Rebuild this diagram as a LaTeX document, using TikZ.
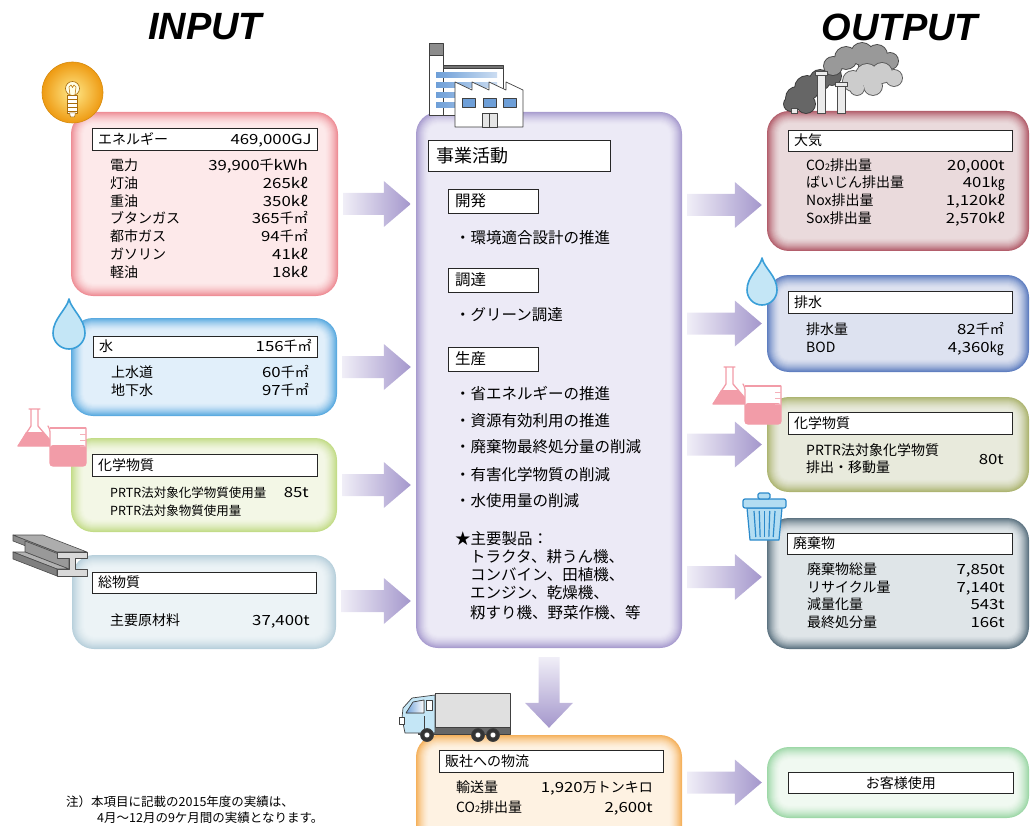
\documentclass[tikz,border=0pt]{standalone}
\usepackage{fontspec}
\setmainfont{Noto Sans CJK JP}
\newfontfamily\valfont{Noto Sans CJK JP}[FakeStretch=1.2]
\newfontfamily\titlefont{Liberation Sans}
\usetikzlibrary{calc}

% panel colours: edge / inner fill
\definecolor{eEnergy}{HTML}{EE8E96}\definecolor{fEnergy}{HTML}{FDE9EA}
\definecolor{eWater}{HTML}{5AAAE0}\definecolor{fWater}{HTML}{E1EFFA}
\definecolor{eChemIn}{HTML}{C3DC88}\definecolor{fChemIn}{HTML}{F3F7E6}
\definecolor{eMat}{HTML}{B8D0DC}\definecolor{fMat}{HTML}{ECF3F6}
\definecolor{eCenter}{HTML}{A89CCF}\definecolor{fCenter}{HTML}{ECEAF6}
\definecolor{eAir}{HTML}{B35F6C}\definecolor{fAir}{HTML}{EADADC}
\definecolor{eDrain}{HTML}{5F7EC0}\definecolor{fDrain}{HTML}{DDE2F0}
\definecolor{eChemOut}{HTML}{ADB572}\definecolor{fChemOut}{HTML}{E8EADC}
\definecolor{eWaste}{HTML}{5E7482}\definecolor{fWaste}{HTML}{DFE5E8}
\definecolor{eCust}{HTML}{9ED8A8}\definecolor{fCust}{HTML}{F0F9F1}
\definecolor{eLogi}{HTML}{F5B15C}\definecolor{fLogi}{HTML}{FEF2E2}
% flow arrows
\definecolor{arL}{HTML}{F0EEF7}\definecolor{arR}{HTML}{A497CC}
% icons
\definecolor{bulbOut}{HTML}{EE9A12}\definecolor{bulbIn}{HTML}{FFE98A}
\definecolor{dropLine}{HTML}{3A9FD8}\definecolor{dropFill}{HTML}{C4E6F6}
\definecolor{flaskPink}{HTML}{F29CA8}
\definecolor{canLine}{HTML}{2B8ACB}\definecolor{canFill}{HTML}{B3DDF2}
\definecolor{winBlue}{HTML}{6E9FD8}

\tikzset{
  txt/.style={inner sep=0, font=\fontsize{14}{16}\selectfont},
  smalltxt/.style={inner sep=0, font=\fontsize{12.5}{14}\selectfont},
  ctxt/.style={inner sep=0, font=\fontsize{15.5}{17}\selectfont},
  hdr/.style={draw=black!85, line width=0.9, fill=white, inner sep=0, anchor=north west},
  panelnode/.style={inner sep=0, draw=none},
  titletxt/.style={inner sep=0, font=\titlefont\bfseries\itshape\fontsize{38}{40}\selectfont},
  flowshade/.style={left color=arL, right color=arR},
  icon/.style={line join=round, line cap=round},
}

% wide Latin figures and unit letters
\newcommand\nv[1]{{\valfont #1}}

% soft-edged rounded panel: name, x1, y1, x2, y2, edge colour, fill colour
\newcommand\panel[7]{%
  \foreach \i in {0,...,13}{%
    \pgfmathtruncatemacro\pct{100*(1-\i/13)^1.6}%
    \pgfmathsetmacro\rad{max(22-\i,7)}%
    \fill[#6!\pct!#7, rounded corners=\rad pt] (#2+\i,#3+\i) rectangle (#4-\i,#5-\i);
  }%
  \node[panelnode, minimum width=#4-#2, minimum height=#5-#3] (#1) at ({(#2+#4)/2},{(#3+#5)/2}) {};
}

% framed heading: name, x, y, width, height, left text, right text
\newcommand\hdrbox[7]{%
  \node[hdr, minimum width=#4, minimum height=#5] (#1) at (#2,#3) {};
  \node[txt, anchor=base west] (#1-l) at ($(#1.west)+(6,5)$) {#6};
  \node[txt, anchor=base east] (#1-r) at ($(#1.east)+(-6,5)$) {#7};
}

% item row: name, y centre, label, value (columns \lx and \rx)
\newcommand\kv[4]{%
  \node[txt, anchor=base west] (#1k) at (\lx,#2+5) {#3};
  \node[txt, anchor=base east] (#1v) at (\rx,#2+5) {#4};
}

% wide horizontal flow arrow between two nodes, at the height of a reference point
\newcommand\harrow[3]{%
  \shade[flowshade] let \p1=(#1), \p2=(#2), \p3=(#3) in
    (\x1+5pt,\y3+11pt) -- (\x2-32pt,\y3+11pt) -- (\x2-32pt,\y3+23pt) -- (\x2-5pt,\y3)
    -- (\x2-32pt,\y3-23pt) -- (\x2-32pt,\y3-11pt) -- (\x1+5pt,\y3-11pt) -- cycle;
}

% water drop: centre x, tip y, bulb centre y, radius
\newcommand\drop[4]{%
  \pgfmathsetmacro\kk{0.552*#4}%
  \draw[dropLine, fill=dropFill, line width=1.6, icon]
    (#1,#2) .. controls (#1-2,#2+10) and (#1-#4,#3-14) .. (#1-#4,#3)
    .. controls (#1-#4,#3+\kk) and (#1-\kk,#3+#4) .. (#1,#3+#4)
    .. controls (#1+\kk,#3+#4) and (#1+#4,#3+\kk) .. (#1+#4,#3)
    .. controls (#1+#4,#3-14) and (#1+2,#2+10) .. (#1,#2) -- cycle;
}

% flask and beaker pair, drawn at the origin
\newcommand\flasks{%
  % erlenmeyer flask
  \fill[white] (31,410) -- (38,410) -- (38,426) -- (55,446) -- (18,446) -- (31,426) -- cycle;
  \fill[flaskPink] (26,432) -- (43,432) -- (55,446) -- (18,446) -- cycle;
  \draw[flaskPink, line width=1.3, icon] (29,409) -- (40,409)
    (31,409) -- (31,426) -- (18,446) -- (55,446) -- (38,426) -- (38,409);
  % beaker
  \fill[white, rounded corners=2pt] (50,428) rectangle (86,466);
  \fill[flaskPink, rounded corners=3pt] (50,445) rectangle (86,466);
  \draw[flaskPink, line width=1.3, rounded corners=3pt, icon] (48,426) -- (50,429) -- (50,466) -- (86,466) -- (86,428);
  \draw[flaskPink, line width=1.1] (86,428) -- (50,428);
  \draw[flaskPink!80, line width=1] (80,434) -- (86,434) (80,440) -- (86,440) (80,446) -- (86,446);
}

\newcommand\cotwo{CO{\fontsize{9}{9}\selectfont 2}}

\begin{document}
\begin{tikzpicture}[x=1pt, y=-1pt]
\useasboundingbox (0,0) rectangle (1030,826);
\clip (0,0) rectangle (1030,826);

% ---------- titles ----------
\node[titletxt] (intitle) at (205,27) {INPUT};
\node[titletxt] (outtitle) at (900,27) {OUTPUT};

% ---------- panels ----------
\panel{energy}{71}{112}{338}{296}{eEnergy}{fEnergy}
\panel{water}{71}{318}{337}{416}{eWater}{fWater}
\panel{chemin}{71}{438}{337}{532}{eChemIn}{fChemIn}
\panel{mat}{72}{555}{336}{649}{eMat}{fMat}
\panel{center}{416}{112}{682}{648}{eCenter}{fCenter}
\panel{air}{767}{111}{1029}{251}{eAir}{fAir}
\panel{drain}{767}{275}{1029}{372}{eDrain}{fDrain}
\panel{chemout}{767}{397}{1029}{492}{eChemOut}{fChemOut}
\panel{waste}{767}{518}{1029}{649}{eWaste}{fWaste}
\panel{cust}{767}{747}{1029}{818}{eCust}{fCust}
\panel{logi}{416}{735}{682}{850}{eLogi}{fLogi}

% ---------- flow arrows ----------
\harrow{energy.east}{center.west}{energy.east}
\harrow{water.east}{center.west}{water.east}
\harrow{chemin.east}{center.west}{chemin.east}
\coordinate (matrow) at (0,601);
\harrow{mat.east}{center.west}{matrow}
\coordinate (airrow) at (0,205);
\harrow{center.east}{air.west}{airrow}
\harrow{center.east}{drain.west}{drain.west}
\harrow{center.east}{chemout.west}{chemout.west}
\coordinate (wasterow) at (0,577);
\harrow{center.east}{waste.west}{wasterow}
\harrow{logi.east}{cust.west}{cust.west}
\shade[top color=arL, bottom color=arR] let \p1=(center.south), \p2=(logi.north) in
  (\x1-10.5pt,\y1-9pt) -- (\x1+10.5pt,\y1-9pt) -- (\x1+10.5pt,\y2+32pt) -- (\x1+24pt,\y2+32pt)
  -- (\x1,\y2+7pt) -- (\x1-24pt,\y2+32pt) -- (\x1-10.5pt,\y2+32pt) -- cycle;

% ---------- INPUT: energy ----------
\hdrbox{energyh}{92}{128}{225}{22}{エネルギー}{\nv{469,000GJ}}
\def\lx{110}\def\rx{308}
\kv{e1}{166}{電力}{\nv{39,900}千\nv{kWh}}
\kv{e2}{184}{灯油}{\nv{265kℓ}}
\kv{e3}{202}{重油}{\nv{350kℓ}}
\kv{e4}{219}{ブタンガス}{\nv{365}千㎡}
\kv{e5}{237}{都市ガス}{\nv{94}千㎡}
\kv{e6}{254}{ガソリン}{\nv{41kℓ}}
\kv{e7}{272}{軽油}{\nv{18kℓ}}

% ---------- INPUT: water ----------
\hdrbox{waterh}{93}{336}{224}{21}{水}{\nv{156}千㎡}
\def\lx{111}\def\rx{309}
\kv{w1}{372}{上水道}{\nv{60}千㎡}
\kv{w2}{390}{地下水}{\nv{97}千㎡}

% ---------- INPUT: chemicals ----------
\hdrbox{chemh}{92}{454}{225}{22}{化学物質}{}
\node[smalltxt, anchor=base west] (c1k) at (110,497) {PRTR法対象化学物質使用量};
\node[txt, anchor=base east] (c1v) at (309,497) {\nv{85t}};
\node[smalltxt, anchor=base west] (c2k) at (110,515) {PRTR法対象物質使用量};

% ---------- INPUT: materials ----------
\hdrbox{math}{92}{572}{224}{21}{総物質}{}
\def\lx{110}\def\rx{310}
\kv{m1}{620}{主要原材料}{\nv{37,400t}}

% ---------- business activities ----------
\node[hdr, minimum width=182, minimum height=31] (bizh) at (428,140) {};
\node[inner sep=0, font=\fontsize{18}{20}\selectfont, anchor=base west] (bizt) at ($(bizh.west)+(8,6.5)$) {事業活動};
\node[hdr, minimum width=90, minimum height=24] (devh) at (448,189) {};
\node[ctxt, anchor=base west] (devt) at ($(devh.west)+(7,5.5)$) {開発};
\node[ctxt, anchor=base west] (dev1) at (455,243.5) {・環境適合設計の推進};
\node[hdr, minimum width=90, minimum height=24] (proh) at (448,268) {};
\node[ctxt, anchor=base west] (prot) at ($(proh.west)+(7,5.5)$) {調達};
\node[ctxt, anchor=base west] (pro1) at (455,320.5) {・グリーン調達};
\node[hdr, minimum width=90, minimum height=24] (manh) at (448,347) {};
\node[ctxt, anchor=base west] (mant) at ($(manh.west)+(7,5.5)$) {生産};
\node[ctxt, anchor=base west] (man1) at (455,399.5) {・省エネルギーの推進};
\node[ctxt, anchor=base west] (man2) at (455,426.5) {・資源有効利用の推進};
\node[ctxt, anchor=base west] (man3) at (455,452.5) {・廃棄物最終処分量の削減};
\node[ctxt, anchor=base west] (man4) at (455,480.5) {・有害化学物質の削減};
\node[ctxt, anchor=base west] (man5) at (455,506.5) {・水使用量の削減};
\node[ctxt, anchor=base west] (prod) at (455,544.5) {★主要製品：};
\node[ctxt, anchor=base west] (prod1) at (470,562.5) {トラクタ、耕うん機、};
\node[ctxt, anchor=base west] (prod2) at (470,580.5) {コンバイン、田植機、};
\node[ctxt, anchor=base west] (prod3) at (470,598.5) {エンジン、乾燥機、};
\node[ctxt, anchor=base west] (prod4) at (470,618.5) {籾すり機、野菜作機、等};

% ---------- OUTPUT: air ----------
\hdrbox{airh}{788}{130}{224}{21}{大気}{}
\def\lx{806}\def\rx{1005}
\kv{a1}{166}{\cotwo 排出量}{\nv{20,000t}}
\kv{a2}{183}{ばいじん排出量}{\nv{401}㎏}
\kv{a3}{201}{Nox排出量}{\nv{1,120kℓ}}
\kv{a4}{219}{Sox排出量}{\nv{2,570kℓ}}

% ---------- OUTPUT: drainage ----------
\hdrbox{drainh}{788}{291}{224}{22}{排水}{}
\def\lx{806}\def\rx{1004}
\kv{d1}{329}{排水量}{\nv{82}千㎡}
\kv{d2}{347}{BOD}{\nv{4,360}㎏}

% ---------- OUTPUT: chemicals ----------
\hdrbox{chemoh}{788}{412}{224}{22}{化学物質}{}
\node[txt, anchor=base west] (co1) at (806,455) {PRTR法対象化学物質};
\node[txt, anchor=base west] (co2) at (806,472) {排出・移動量};
\node[txt, anchor=base east] (cov) at (1004,464) {\nv{80t}};

% ---------- OUTPUT: waste ----------
\hdrbox{wasteh}{787}{533}{225}{21}{廃棄物}{}
\def\lx{807}\def\rx{1005}
\kv{x1}{569}{廃棄物総量}{\nv{7,850t}}
\kv{x2}{587}{リサイクル量}{\nv{7,140t}}
\kv{x3}{604}{減量化量}{\nv{543t}}
\kv{x4}{622}{最終処分量}{\nv{166t}}

% ---------- OUTPUT: customers ----------
\node[hdr, minimum width=225, minimum height=21] (custh) at (788,772) {};
\node[txt] (custt) at (custh.center) {お客様使用};

% ---------- distribution ----------
\hdrbox{logih}{439}{750}{224}{22}{販社への物流}{}
\def\lx{456}\def\rx{653}
\kv{l1}{787}{輸送量}{\nv{1,920}万トンキロ}
\kv{l2}{807}{\cotwo 排出量}{\nv{2,600t}}

% ---------- footnote ----------
\node[smalltxt, anchor=base west] (note1) at (66,806) {注）本項目に記載の2015年度の実績は、};
\node[smalltxt, anchor=base west] (note2) at (97,822) {4月～12月の9ケ月間の実績となります。};

% ================= icons =================
% light bulb
\shade[inner color=bulbIn, outer color=bulbOut] (72.5,92.5) circle (30.5);
\draw[bulbOut!90!black, line width=0.6] (72.5,92.5) circle (30.5);
\draw[icon, bulbOut!70!black, line width=0.6, fill=white!90!yellow] (72.5,88.5) circle (7);
\draw[icon, bulbOut!70!black, line width=0.5, fill=white] (67.5,95) rectangle (77.5,113);
\foreach \yy in {99,103,107,111} \draw[bulbOut!70!black, line width=0.5] (67.5,\yy) -- (77.5,\yy);
\draw[icon, bulbOut!70!black, line width=0.5, fill=white] (69.5,113) -- (75.5,113) -- (74.5,117) -- (70.5,117) -- cycle;
\draw[icon, bulbOut!80!black, line width=0.6] (70,95) -- (69,87) -- (71,85) -- (72.5,87.5) -- (74,85) -- (76,87) -- (75,95);

% water drops
\drop{69}{299}{333}{16}
\drop{762}{258}{290}{15}

% flask pairs
\flasks
\begin{scope}[shift={(695,-42)}]\flasks\end{scope}

% steel beam
\begin{scope}[draw=black!70, line width=0.6, line join=round]
  \filldraw[fill=black!45] (57,552) -- (57,558) -- (13,541) -- (13,535) -- cycle;
  \filldraw[fill=black!32] (57,552) -- (87,552) -- (43,535) -- (13,535) -- cycle;
  \filldraw[fill=black!40] (69,558) -- (69,569) -- (25,552) -- (25,541) -- cycle;
  \filldraw[fill=black!30] (57,569) -- (69,569) -- (25,552) -- (13,552) -- cycle;
  \filldraw[fill=black!50] (57,569) -- (57,576) -- (13,559) -- (13,552) -- cycle;
  \filldraw[fill=black!15] (57,552) -- (87,552) -- (87,558) -- (75,558) -- (75,569) -- (87,569)
    -- (87,576) -- (57,576) -- (57,569) -- (69,569) -- (69,558) -- (57,558) -- cycle;
\end{scope}

% factory
\begin{scope}[draw=black!75, line width=0.7, line join=round]
  \filldraw[fill=white] (429,55) rectangle (443,115);
  \filldraw[fill=black!45] (429,43) rectangle (443,55);
  \filldraw[fill=white] (443,68) rectangle (503,115);
  \filldraw[fill=black!55] (443,65) rectangle (503,68);
  \foreach \yy in {73,83,93,103}
    \fill[left color=winBlue, right color=winBlue!35] (436,\yy) rectangle (497,\yy+5);
  \filldraw[fill=white] (455,127) -- (455,82) -- (472,90) -- (472,82) -- (489,90) -- (489,82)
    -- (506,90) -- (506,82) -- (523,90) -- (523,127) -- cycle;
  \filldraw[fill=winBlue] (462,98) rectangle (475,107);
  \filldraw[fill=winBlue] (483,98) rectangle (496,107);
  \filldraw[fill=winBlue] (503,98) rectangle (516,107);
  \filldraw[fill=black!10] (482,113) rectangle (497,127);
  \draw (489.5,113) -- (489.5,127);
\end{scope}

% chimneys and smoke
\foreach \cx/\cy/\r in {797/98/11, 807/88/12, 820/80/10, 832/76/9, 806/104/9, 791/104/7}
  \fill[black!78] (\cx,\cy) circle (\r+0.9);
\foreach \cx/\cy/\r in {797/98/11, 807/88/12, 820/80/10, 832/76/9, 806/104/9, 791/104/7}
  \fill[black!60] (\cx,\cy) circle (\r);
\foreach \cx/\cy/\r in {833/66/9, 846/58/11, 862/54/11, 877/55/10, 890/61/8, 868/66/9}
  \fill[black!72] (\cx,\cy) circle (\r+0.9);
\foreach \cx/\cy/\r in {833/66/9, 846/58/11, 862/54/11, 877/55/10, 890/61/8, 868/66/9}
  \fill[black!40] (\cx,\cy) circle (\r);
\foreach \cx/\cy/\r in {853/81/10, 867/75/11, 882/73/10, 894/78/8, 873/86/9, 857/88/7}
  \fill[black!65] (\cx,\cy) circle (\r+0.9);
\foreach \cx/\cy/\r in {853/81/10, 867/75/11, 882/73/10, 894/78/8, 873/86/9, 857/88/7}
  \fill[black!20] (\cx,\cy) circle (\r);
\begin{scope}[draw=black!70, line width=0.6]
  \filldraw[fill=black!8] (817,75) rectangle (825,113);
  \filldraw[fill=black!8] (815,71) rectangle (827,75);
  \filldraw[fill=black!8] (837,86) rectangle (845,113);
  \filldraw[fill=black!8] (835,82) rectangle (847,86);
  \filldraw[fill=black!8] (791,108) rectangle (797,113);
\end{scope}

% trash can
\begin{scope}[draw=canLine, line width=1.2, line join=round]
  \filldraw[fill=canFill] (747,508) -- (782,508) -- (779,540) -- (750,540) -- cycle;
  \foreach \t in {0.2,0.35,0.5,0.65,0.8}
    \draw ({747+35*\t},511) -- ({750+29*\t},537);
  \filldraw[fill=canFill, rounded corners=2pt] (743,499) rectangle (786,508);
  \filldraw[fill=canFill, rounded corners=1.5pt] (758,493) rectangle (770,499);
\end{scope}

% delivery truck
\begin{scope}[draw=black!75, line width=0.7, line join=round]
  \filldraw[fill=black!60] (418,727) rectangle (510,734);
  \filldraw[fill=black!12] (435,693) rectangle (510,727);
  \filldraw[fill=dropFill] (405,733) -- (402,718) -- (403,708) -- (412,698) -- (435,695) -- (435,733) -- cycle;
  \filldraw[left color=winBlue, right color=white] (406,713) -- (413,702) -- (424,700) -- (424,713) -- cycle;
  \filldraw[fill=white] (426,700) rectangle (432,710);
  \draw (424,716) -- (424,731);
  \filldraw[fill=white] (399,717) rectangle (404,724);
  \foreach \wx in {427,478,493} {
    \filldraw[fill=black!80] (\wx,735) circle (6.5);
    \filldraw[fill=white] (\wx,735) circle (3);
  }
\end{scope}

\end{tikzpicture}
\end{document}
